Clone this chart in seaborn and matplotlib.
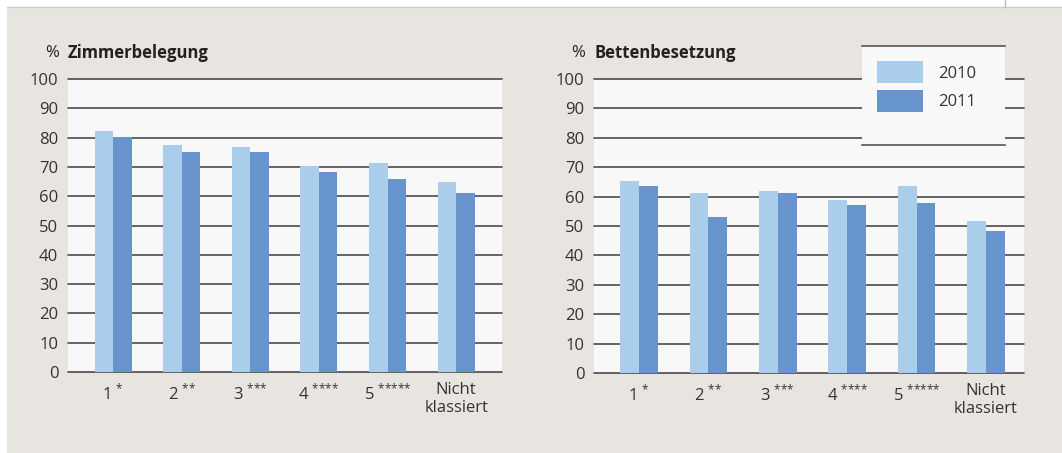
import pandas as pd
import matplotlib.pyplot as plt
import seaborn as sns
from matplotlib.lines import Line2D
from matplotlib.patches import Patch, Rectangle
from matplotlib.transforms import ScaledTranslation

# ---------------- data ----------------
kategorien = [r"1 $^{{*}}$", r"2 $^{{*}{*}}$", r"3 $^{{*}{*}{*}}$",
              r"4 $^{{*}{*}{*}{*}}$", r"5 $^{{*}{*}{*}{*}{*}}$", "Nicht\nklassiert"]
jahre = ["2010", "2011"]

zimmer_2010 = [82.3, 77.5, 76.8, 70.4, 71.3, 64.8]
zimmer_2011 = [80.1, 75.1, 75.1, 68.3, 65.9, 61.1]

betten_2010 = [65.3, 61.2, 61.9, 58.9, 63.6, 51.8]
betten_2011 = [63.6, 53.1, 61.2, 57.2, 57.9, 48.4]

titel = ["Zimmerbelegung", "Bettenbesetzung"]
farben = ["#aacdec", "#6794cc"]

# ---------------- style ----------------
sns.set_style("white")
plt.rcParams["font.family"] = ["Open Sans", "DejaVu Sans"]
plt.rcParams["text.color"] = "#222222"
plt.rcParams["mathtext.fontset"] = "custom"
plt.rcParams["mathtext.rm"] = "Open Sans"
plt.rcParams["mathtext.it"] = "Open Sans"
plt.rcParams["mathtext.default"] = "regular"

W, H = 1062, 453
bg = "#e8e5e0"
face = "#f8f8f8"
grid = "#4a4a4a"


def long_df(a, b):
    return pd.DataFrame({
        "Kategorie": kategorien * 2,
        "Jahr": [jahre[0]] * len(a) + [jahre[1]] * len(b),
        "Wert": a + b,
    })


def fx(px):
    return px / W


def fy(py):
    return 1 - py / H


fig = plt.figure(figsize=(W / 100, H / 100), dpi=100, facecolor=bg)

# white page strips at top / left
fig.patches.append(Rectangle((0, fy(7)), 1, 7 / H, transform=fig.transFigure,
                             facecolor="white", edgecolor="none"))
fig.patches.append(Rectangle((0, 0), fx(7), 1, transform=fig.transFigure,
                             facecolor="white", edgecolor="none"))
fig.add_artist(Line2D([fx(7), 1], [fy(7), fy(7)], color="#cccccc", lw=1))
fig.add_artist(Line2D([fx(1005), fx(1005)], [fy(0), fy(7)], color="#bbbbbb", lw=1))

# panel geometry in pixels: left, right, top, bottom, xlim
panels = [
    (68, 502, 79, 372, (-0.66, 5.67), long_df(zimmer_2010, zimmer_2011)),
    (594, 1024, 79, 373, (-0.65, 5.55), long_df(betten_2010, betten_2011)),
]

for i, (l, r, t, b, xlim, df) in enumerate(panels):
    ax = fig.add_axes([fx(l), fy(b), fx(r - l), (b - t) / H])
    ax.set_facecolor(face)
    sns.barplot(data=df, x="Kategorie", y="Wert", hue="Jahr", palette=farben,
                width=0.54, gap=0, saturation=1, linewidth=0, edgecolor="none",
                ax=ax, legend=False)
    ax.set_axisbelow(True)
    ax.set_xlim(*xlim)
    ax.set_ylim(0, 100)
    ax.set_yticks(range(0, 101, 10))
    ax.yaxis.grid(True, color=grid, lw=1.2)
    ax.xaxis.grid(False)
    for s in ax.spines.values():
        s.set_visible(False)
    ax.tick_params(axis="y", length=0, pad=7, labelsize=12, labelcolor="#333333")
    ax.tick_params(axis="x", length=0, pad=20, labelsize=12, labelcolor="#333333")
    ax.set_xlabel("")
    ax.set_ylabel("")
    for gl in ax.get_ygridlines():
        gl.set_clip_on(False)
    for lab in ax.get_xticklabels():
        if "\n" in lab.get_text():
            # two-line label: align its first line with the others
            lab.set_verticalalignment("top")
            lab.set_transform(lab.get_transform()
                              + ScaledTranslation(0, 0.18, fig.dpi_scale_trans))
        else:
            lab.set_verticalalignment("baseline")

    fig.text(fx(l - 9), fy(53), "%", ha="right", va="center", fontsize=12)
    fig.text(fx(l), fy(53), titel[i], ha="left", va="center", fontsize=12,
             fontweight="bold")

# ---------------- legend box ----------------
lx0, lx1, ly0, ly1 = 862, 1005, 46, 145
lax = fig.add_axes([fx(lx0), fy(ly1), fx(lx1 - lx0), (ly1 - ly0) / H])
lax.set_facecolor(face)
lax.set_xticks([])
lax.set_yticks([])
lax.spines["left"].set_visible(False)
lax.spines["right"].set_visible(False)
for s in ("top", "bottom"):
    lax.spines[s].set_color("#555555")
    lax.spines[s].set_linewidth(1.2)

handles = [Patch(facecolor=c, edgecolor="none", label=j) for c, j in zip(farben, jahre)]
lax.legend(handles=handles, loc="upper left",
           bbox_to_anchor=(15 / (lx1 - lx0), 1 - 15 / (ly1 - ly0)),
           frameon=False, borderpad=0, borderaxespad=0,
           handlelength=2.76, handleheight=1.67, labelspacing=0.4,
           handletextpad=0.9, fontsize=12, labelcolor="#333333")

fig.savefig("out.png", dpi=100, facecolor=bg)
